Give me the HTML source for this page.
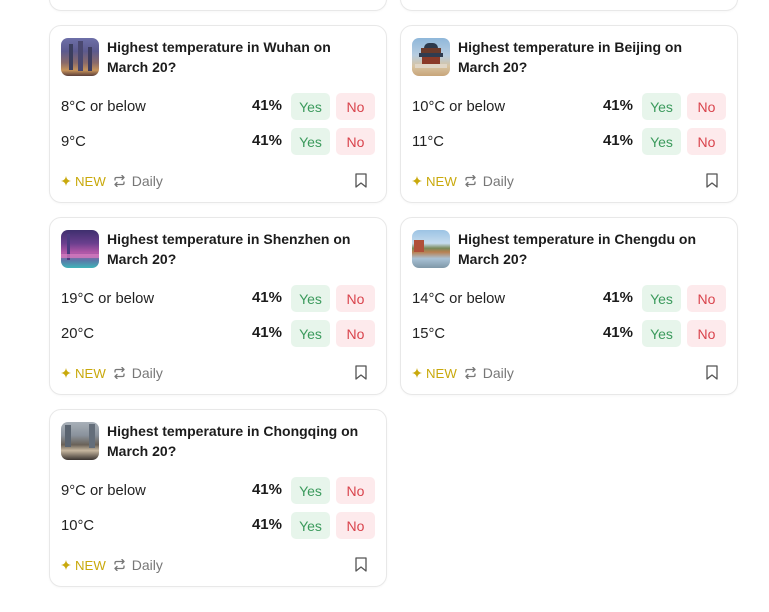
<!DOCTYPE html>
<html><head><meta charset="utf-8">
<style>
*{box-sizing:border-box;margin:0;padding:0}
html,body{width:769px;height:612px;background:#fff;overflow:hidden;font-family:"Liberation Sans",Arial,sans-serif;color:#1f1f1f}
.card{position:absolute;width:338px;height:178px;border:1px solid #e8e8e8;border-radius:12px;background:#fff;box-shadow:0 1px 2px rgba(0,0,0,0.03)}
.img{position:absolute;left:11px;top:12px;width:38px;height:38px;border-radius:7px;overflow:hidden}
.title{position:absolute;left:57px;top:11px;width:258px;font-size:14px;font-weight:bold;line-height:20px;color:#1c1c1c}
.row{position:absolute;left:11px;right:11px;height:27px;display:flex;align-items:center}
.lab{font-size:14.8px;flex:1;color:#222}
.pct{font-size:15px;font-weight:bold;margin-right:9px;margin-top:-3px;color:#1c1c1c}
.btn{width:39px;height:27px;border-radius:5px;font-size:14px;display:flex;align-items:center;justify-content:center}
.yes{background:#e7f5eb;color:#3b9a5c;margin-right:6px}
.no{background:#fdeaec;color:#d9434c}
.foot{position:absolute;left:11px;right:11px;top:144px;height:22px;display:flex;align-items:center;font-size:14px}
.new{color:#c9a90c;margin-left:4px;margin-right:7px;font-size:13.2px}
.daily{color:#777;margin-left:6px;font-size:14px}
.bm{position:absolute;right:8px;top:3px}
</style></head><body>

<div class="card" style="left:49px;top:-167px"></div>
<div class="card" style="left:400px;top:-167px"></div>

<!-- Wuhan -->
<div class="card" style="left:49px;top:25px">
  <div class="img" style="background:linear-gradient(180deg,#6d6fa8 0%,#5c5a8e 35%,#8a6a6a 65%,#c7935a 85%,#5a3e3a 100%)">
    <div style="position:absolute;left:8px;top:6px;width:4px;height:26px;background:#3b3e5e"></div>
    <div style="position:absolute;left:17px;top:3px;width:5px;height:30px;background:#4a4870"></div>
    <div style="position:absolute;left:27px;top:9px;width:4px;height:24px;background:#3e3d60"></div>
  </div>
  <div class="title">Highest temperature in Wuhan on March 20?</div>
  <div class="row" style="top:67px"><span class="lab">8°C or below</span><span class="pct">41%</span><span class="btn yes">Yes</span><span class="btn no">No</span></div>
  <div class="row" style="top:102px"><span class="lab">9°C</span><span class="pct">41%</span><span class="btn yes">Yes</span><span class="btn no">No</span></div>
  <div class="foot">
    <svg width="10" height="10" viewBox="0 0 10 10"><path d="M5 0 Q5.6 4.4 10 5 Q5.6 5.6 5 10 Q4.4 5.6 0 5 Q4.4 4.4 5 0Z" fill="#c9a90c"/></svg>
    <span class="new">NEW</span>
    <svg width="13" height="12" viewBox="0 0 13 12" fill="none" stroke="#777" stroke-width="1.3" stroke-linecap="round" stroke-linejoin="round"><path d="M2 5 V4 Q2 2.5 3.5 2.5 H11 M9 0.5 L11 2.5 L9 4.5"/><path d="M11 7 V8 Q11 9.5 9.5 9.5 H2 M4 7.5 L2 9.5 L4 11.5"/></svg>
    <span class="daily">Daily</span>
    <svg class="bm" width="12" height="15" viewBox="0 0 12 15" fill="none" stroke="#555" stroke-width="1.3" stroke-linejoin="round"><path d="M1 1 H11 V14 L6 10 L1 14 Z"/></svg>
  </div>
</div>

<!-- Beijing -->
<div class="card" style="left:400px;top:25px">
  <div class="img" style="background:linear-gradient(180deg,#8fb7da 0%,#b7cde0 45%,#d8c3a0 75%,#c8a57a 100%)">
    <div style="position:absolute;left:12px;top:5px;width:14px;height:5px;background:#2d3a4c;border-radius:6px 6px 0 0"></div>
    <div style="position:absolute;left:9px;top:10px;width:20px;height:5px;background:#6a3a2a"></div>
    <div style="position:absolute;left:7px;top:15px;width:24px;height:4px;background:#2f3c50"></div>
    <div style="position:absolute;left:10px;top:19px;width:18px;height:7px;background:#8a3a28"></div>
    <div style="position:absolute;left:3px;top:26px;width:32px;height:4px;background:#e0d6c6"></div>
  </div>
  <div class="title">Highest temperature in Beijing on March 20?</div>
  <div class="row" style="top:67px"><span class="lab">10°C or below</span><span class="pct">41%</span><span class="btn yes">Yes</span><span class="btn no">No</span></div>
  <div class="row" style="top:102px"><span class="lab">11°C</span><span class="pct">41%</span><span class="btn yes">Yes</span><span class="btn no">No</span></div>
  <div class="foot">
    <svg width="10" height="10" viewBox="0 0 10 10"><path d="M5 0 Q5.6 4.4 10 5 Q5.6 5.6 5 10 Q4.4 5.6 0 5 Q4.4 4.4 5 0Z" fill="#c9a90c"/></svg>
    <span class="new">NEW</span>
    <svg width="13" height="12" viewBox="0 0 13 12" fill="none" stroke="#777" stroke-width="1.3" stroke-linecap="round" stroke-linejoin="round"><path d="M2 5 V4 Q2 2.5 3.5 2.5 H11 M9 0.5 L11 2.5 L9 4.5"/><path d="M11 7 V8 Q11 9.5 9.5 9.5 H2 M4 7.5 L2 9.5 L4 11.5"/></svg>
    <span class="daily">Daily</span>
    <svg class="bm" width="12" height="15" viewBox="0 0 12 15" fill="none" stroke="#555" stroke-width="1.3" stroke-linejoin="round"><path d="M1 1 H11 V14 L6 10 L1 14 Z"/></svg>
  </div>
</div>

<!-- Shenzhen -->
<div class="card" style="left:49px;top:217px">
  <div class="img" style="background:linear-gradient(180deg,#3e2f6e 0%,#6a3f8e 35%,#b458a8 60%,#5a78a8 80%,#3fb4b8 100%)">
    <div style="position:absolute;left:6px;top:4px;width:3px;height:26px;background:#4a3a80"></div>
    <div style="position:absolute;left:0;top:24px;width:38px;height:4px;background:#e07ac0;opacity:.7"></div>
  </div>
  <div class="title">Highest temperature in Shenzhen on March 20?</div>
  <div class="row" style="top:67px"><span class="lab">19°C or below</span><span class="pct">41%</span><span class="btn yes">Yes</span><span class="btn no">No</span></div>
  <div class="row" style="top:102px"><span class="lab">20°C</span><span class="pct">41%</span><span class="btn yes">Yes</span><span class="btn no">No</span></div>
  <div class="foot">
    <svg width="10" height="10" viewBox="0 0 10 10"><path d="M5 0 Q5.6 4.4 10 5 Q5.6 5.6 5 10 Q4.4 5.6 0 5 Q4.4 4.4 5 0Z" fill="#c9a90c"/></svg>
    <span class="new">NEW</span>
    <svg width="13" height="12" viewBox="0 0 13 12" fill="none" stroke="#777" stroke-width="1.3" stroke-linecap="round" stroke-linejoin="round"><path d="M2 5 V4 Q2 2.5 3.5 2.5 H11 M9 0.5 L11 2.5 L9 4.5"/><path d="M11 7 V8 Q11 9.5 9.5 9.5 H2 M4 7.5 L2 9.5 L4 11.5"/></svg>
    <span class="daily">Daily</span>
    <svg class="bm" width="12" height="15" viewBox="0 0 12 15" fill="none" stroke="#555" stroke-width="1.3" stroke-linejoin="round"><path d="M1 1 H11 V14 L6 10 L1 14 Z"/></svg>
  </div>
</div>

<!-- Chengdu -->
<div class="card" style="left:400px;top:217px">
  <div class="img" style="background:linear-gradient(180deg,#9cc3e4 0%,#c6dcee 35%,#7a8a5a 48%,#b88050 58%,#a9c2d6 75%,#7f98a8 100%)">
    <div style="position:absolute;left:2px;top:10px;width:10px;height:12px;background:#b0503a"></div>
  </div>
  <div class="title">Highest temperature in Chengdu on March 20?</div>
  <div class="row" style="top:67px"><span class="lab">14°C or below</span><span class="pct">41%</span><span class="btn yes">Yes</span><span class="btn no">No</span></div>
  <div class="row" style="top:102px"><span class="lab">15°C</span><span class="pct">41%</span><span class="btn yes">Yes</span><span class="btn no">No</span></div>
  <div class="foot">
    <svg width="10" height="10" viewBox="0 0 10 10"><path d="M5 0 Q5.6 4.4 10 5 Q5.6 5.6 5 10 Q4.4 5.6 0 5 Q4.4 4.4 5 0Z" fill="#c9a90c"/></svg>
    <span class="new">NEW</span>
    <svg width="13" height="12" viewBox="0 0 13 12" fill="none" stroke="#777" stroke-width="1.3" stroke-linecap="round" stroke-linejoin="round"><path d="M2 5 V4 Q2 2.5 3.5 2.5 H11 M9 0.5 L11 2.5 L9 4.5"/><path d="M11 7 V8 Q11 9.5 9.5 9.5 H2 M4 7.5 L2 9.5 L4 11.5"/></svg>
    <span class="daily">Daily</span>
    <svg class="bm" width="12" height="15" viewBox="0 0 12 15" fill="none" stroke="#555" stroke-width="1.3" stroke-linejoin="round"><path d="M1 1 H11 V14 L6 10 L1 14 Z"/></svg>
  </div>
</div>

<!-- Chongqing -->
<div class="card" style="left:49px;top:409px">
  <div class="img" style="background:linear-gradient(180deg,#a8b0b8 0%,#8a929c 35%,#6a6258 60%,#c8b8a0 75%,#3a3430 100%)">
    <div style="position:absolute;left:4px;top:3px;width:6px;height:22px;background:#5a6470"></div>
    <div style="position:absolute;left:28px;top:2px;width:6px;height:24px;background:#646e7a"></div>
  </div>
  <div class="title">Highest temperature in Chongqing on March 20?</div>
  <div class="row" style="top:67px"><span class="lab">9°C or below</span><span class="pct">41%</span><span class="btn yes">Yes</span><span class="btn no">No</span></div>
  <div class="row" style="top:102px"><span class="lab">10°C</span><span class="pct">41%</span><span class="btn yes">Yes</span><span class="btn no">No</span></div>
  <div class="foot">
    <svg width="10" height="10" viewBox="0 0 10 10"><path d="M5 0 Q5.6 4.4 10 5 Q5.6 5.6 5 10 Q4.4 5.6 0 5 Q4.4 4.4 5 0Z" fill="#c9a90c"/></svg>
    <span class="new">NEW</span>
    <svg width="13" height="12" viewBox="0 0 13 12" fill="none" stroke="#777" stroke-width="1.3" stroke-linecap="round" stroke-linejoin="round"><path d="M2 5 V4 Q2 2.5 3.5 2.5 H11 M9 0.5 L11 2.5 L9 4.5"/><path d="M11 7 V8 Q11 9.5 9.5 9.5 H2 M4 7.5 L2 9.5 L4 11.5"/></svg>
    <span class="daily">Daily</span>
    <svg class="bm" width="12" height="15" viewBox="0 0 12 15" fill="none" stroke="#555" stroke-width="1.3" stroke-linejoin="round"><path d="M1 1 H11 V14 L6 10 L1 14 Z"/></svg>
  </div>
</div>

</body></html>
